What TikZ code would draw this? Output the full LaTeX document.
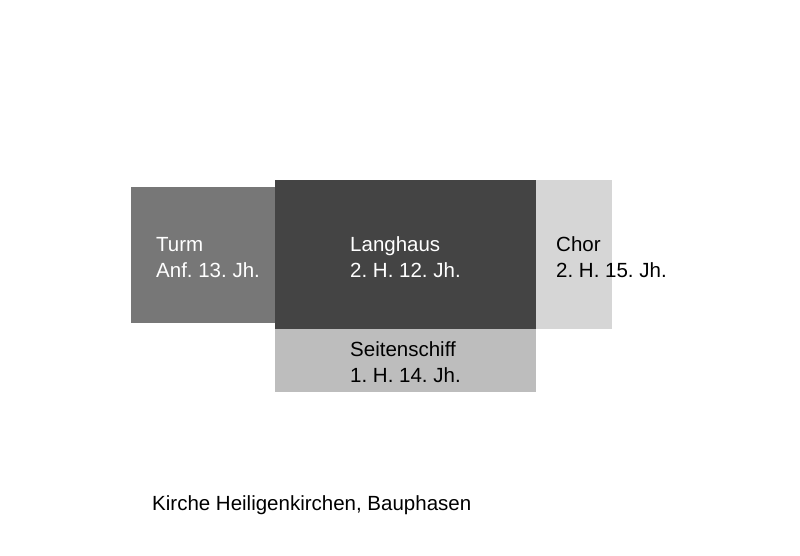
\documentclass[tikz,border=0pt]{standalone}
\usepackage{fontspec}
\setmainfont{Liberation Sans}
\usetikzlibrary{positioning}

\definecolor{turmgray}{RGB}{119,119,119}
\definecolor{langgray}{RGB}{68,68,68}
\definecolor{seitegray}{RGB}{189,189,189}
\definecolor{chorgray}{RGB}{214,214,214}

\begin{document}
\frenchspacing
\begin{tikzpicture}[x=1pt,y=-1pt,node distance=0pt,
                    part/.style={draw=none,inner sep=0pt,outer sep=0pt},
                    lbl/.style={anchor=base west,align=left,inner sep=0pt,
                                font=\fontsize{20.5}{25.5}\selectfont}]
\useasboundingbox (0,0) rectangle (800,555);
\fill[white] (0,0) rectangle (800,555);

        % Bauteile
        \node[part,fill=langgray,minimum width=261pt,minimum height=149pt,anchor=north west] (langhaus) at (275,180) {};
        \node[part,fill=turmgray,minimum width=144pt,minimum height=136pt] (turm) [left=of langhaus] {};
        \node[part,fill=chorgray,minimum width=76pt,minimum height=149pt] (chor) [right=of langhaus] {};
        \node[part,fill=seitegray,minimum width=261pt,minimum height=63pt] (seitenschiff) [below=of langhaus] {};

        % Beschriftung (base = letzte Zeile)
        \node[lbl,text=white] (turmtext) at (156,277) {Turm\\Anf. 13. Jh.};
        \node[lbl,text=white] (langtext) at (350,277) {Langhaus\\2. H. 12. Jh.};
        \node[lbl] (chortext) at (556,277) {Chor\\2. H. 15. Jh.};
        \node[lbl] (seitetext) at (350,382) {Seitenschiff\\1. H. 14. Jh.};

        \node[lbl] (caption) at (152,510) {Kirche Heiligenkirchen, Bauphasen};
\end{tikzpicture}
\end{document}
